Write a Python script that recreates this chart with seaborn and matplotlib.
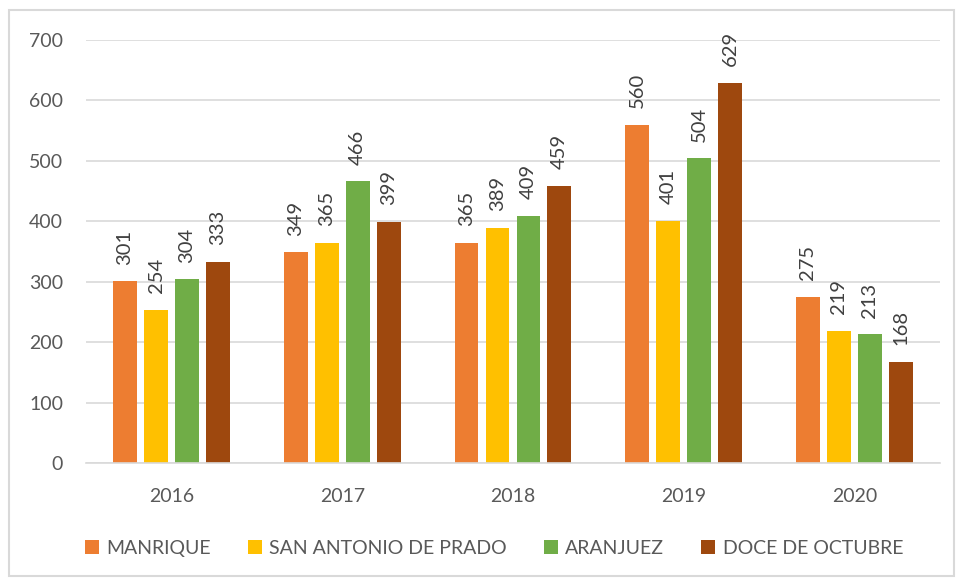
import numpy as np
import pandas as pd
import matplotlib
matplotlib.use("Agg")
import matplotlib.pyplot as plt
import seaborn as sns
from matplotlib.patches import Rectangle

years = ['2016', '2017', '2018', '2019', '2020']
zonas = ['MANRIQUE', 'SAN ANTONIO DE PRADO', 'ARANJUEZ', 'DOCE DE OCTUBRE']
manrique = [301, 349, 365, 560, 275]
san_antonio = [254, 365, 389, 401, 219]
aranjuez = [304, 466, 409, 504, 213]
doce_octubre = [333, 399, 459, 629, 168]
colores = ['#ED7D31', '#FFC000', '#70AD47', '#9E480E']

rows = []
for zona, vals in zip(zonas, [manrique, san_antonio, aranjuez, doce_octubre]):
    for y, v in zip(years, vals):
        rows.append({'year': y, 'zona': zona, 'valor': v})
df = pd.DataFrame(rows)

sns.set_theme(style="white")
plt.rcParams['font.family'] = ['Lato', 'DejaVu Sans']

fig = plt.figure(figsize=(9.57, 5.79), dpi=100)
ax = fig.add_axes([0.09, 0.2, 0.892, 0.731])

sns.barplot(data=df, x='year', y='valor', hue='zona', hue_order=zonas, order=years,
            palette=colores, width=0.725, gap=0.23, saturation=1, linewidth=0,
            edgecolor='none', ax=ax)

for cont in ax.containers:
    ax.bar_label(cont, rotation=90, padding=12, fontsize=14.5, color='#404040')

ax.set_ylim(0, 700)
ax.set_xlim(-0.5, 4.5)
ax.set_yticks(range(0, 701, 100))
ax.yaxis.grid(True, color='#D9D9D9', linewidth=1.2)
ax.set_axisbelow(True)
for s in ['top', 'right', 'left']:
    ax.spines[s].set_visible(False)
ax.spines['bottom'].set_color('#D9D9D9')
ax.spines['bottom'].set_linewidth(1.2)
ax.tick_params(axis='both', length=0, labelsize=14, labelcolor='#595959')
ax.tick_params(axis='x', pad=18)
ax.tick_params(axis='y', pad=16.5)
ax.set_xlabel('')
ax.set_ylabel('')

ax.legend(loc='center', bbox_to_anchor=(0.478, -0.201), ncol=4, frameon=False,
          fontsize=14, handlelength=0.7, handleheight=0.7, handletextpad=0.4,
          columnspacing=1.9, labelcolor='#595959')

fig.patches.append(Rectangle((9 / 957, 3 / 579), 945 / 957, 566 / 579, transform=fig.transFigure,
                             fill=False, edgecolor='#D9D9D9', linewidth=1.5))

fig.savefig('out.png', dpi=100)
